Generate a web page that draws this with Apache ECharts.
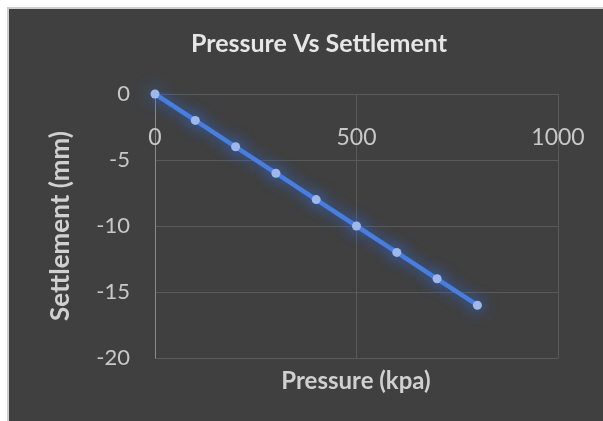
<!DOCTYPE html>
<html><head><meta charset="utf-8">
<script src="https://cdn.jsdelivr.net/npm/echarts@6/dist/echarts.min.js"></script>
<style>
html,body{margin:0;padding:0;background:#ffffff;}
#frame{position:absolute;left:7px;top:7px;width:596px;height:414px;background:#cfcfcf;}
#c{position:absolute;left:9px;top:9px;width:594px;height:412px;}
</style></head>
<body><div id="frame"></div><div id="c"></div>
<script>
const titleText = "Pressure Vs Settlement";
const xName = "Pressure (kpa)";
const yName = "Settlement (mm)";
const pressure = [0, 100, 200, 300, 400, 500, 600, 700, 800];
const settlement = [0, -2, -4, -6, -8, -10, -12, -14, -16];

const chart = echarts.init(document.getElementById('c'));
const font = 'Lato, "Open Sans", sans-serif';
chart.setOption({
  backgroundColor: '#404040',
  animation: false,
  title: {
    text: titleText, left: 305, textAlign: 'center', top: 17,
    textStyle: {color: '#e6e6e6', fontSize: 25, fontWeight: 'bold', fontFamily: font}
  },
  grid: {left: 146, right: 45, top: 85, bottom: 63, containLabel: false, outerBoundsMode: 'none'},
  xAxis: {
    type: 'value', min: 0, max: 1000, interval: 500, position: 'top',
    axisLine: {show: true, lineStyle: {color: '#5a5a5a'}},
    axisTick: {show: false},
    axisLabel: {inside: true, color: '#c8c8c8', fontSize: 23, margin: 32, fontFamily: font,
      formatter: v => String(v)},
    splitLine: {show: true, lineStyle: {color: '#5a5a5a', width: 1}}
  },
  yAxis: {
    type: 'value', min: -20, max: 0, interval: 5,
    name: yName, nameLocation: 'middle', nameGap: 81, nameRotate: 90,
    nameTextStyle: {color: '#d0d0d0', fontSize: 26, fontWeight: 'bold', fontFamily: font},
    axisLine: {show: true, onZero: false, lineStyle: {color: '#8a8a8a'}},
    axisTick: {show: false},
    axisLabel: {color: '#c8c8c8', fontSize: 22, margin: 25, fontFamily: font},
    splitLine: {show: true, lineStyle: {color: '#5a5a5a', width: 1}}
  },
  graphic: [{
    type: 'text', x: 347, y: 372,
    style: {text: xName, fill: '#d0d0d0', fontSize: 24, fontWeight: 'bold', fontFamily: font,
      align: 'center', verticalAlign: 'middle'}
  }],
  series: [{
    type: 'line',
    data: pressure.map((p, i) => [p, settlement[i]]),
    symbol: 'circle', symbolSize: 9,
    lineStyle: {color: '#4a7fde', width: 4.5, shadowBlur: 14, shadowColor: 'rgba(50,110,230,0.95)'},
    itemStyle: {color: '#9fb8ec', borderWidth: 0, shadowBlur: 16, shadowColor: 'rgba(50,110,230,1)'}
  }]
});
</script></body></html>
